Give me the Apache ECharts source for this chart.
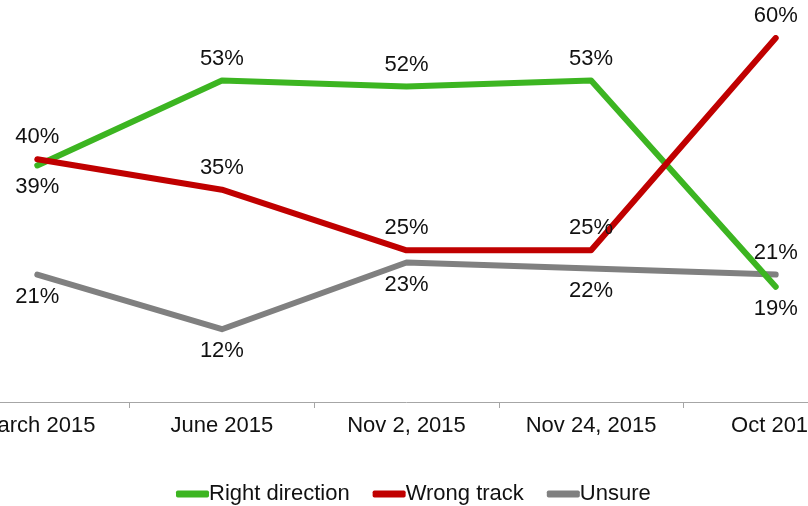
<!DOCTYPE html>
<html>
<head>
<meta charset="utf-8">
<script src="https://cdn.jsdelivr.net/npm/echarts@6/dist/echarts.min.js"></script>
<style>
  html, body { margin: 0; padding: 0; background: #fff; overflow: hidden; width: 808px; height: 506px; }
  /* plot is wider than the window, first and last labels are cut like in the source */
  #chart { position: absolute; left: -55px; top: 0; width: 923px; height: 506px; }
</style>
</head>
<body>
<div id="chart"></div>
<script>
var categories = ["March 2015", "June 2015", "Nov 2, 2015", "Nov 24, 2015", "Oct 2016"];
var rightDirection = [39, 53, 52, 53, 19];
var wrongTrack = [40, 35, 25, 25, 60];
var unsure = [21, 12, 23, 22, 21];
// label side for each point
var rightPos = ["bottom", "top", "top", "top", "bottom"];
var wrongPos = ["top", "top", "top", "top", "top"];
var unsurePos = ["bottom", "bottom", "bottom", "bottom", "top"];

var font = "Liberation Sans, Arial, sans-serif";

function points(vals, pos) {
  return vals.map(function (v, i) {
    return { value: v, label: { position: pos[i] } };
  });
}

function makeSeries(name, vals, pos, color, z) {
  return {
    name: name,
    type: "line",
    z: z,
    data: points(vals, pos),
    symbol: "circle",
    symbolSize: 2,
    showSymbol: true,
    lineStyle: { color: color, width: 6, cap: "round", join: "round" },
    itemStyle: { color: color },
    label: {
      show: true,
      formatter: "{c}%",
      distance: 10,
      color: "#111",
      fontSize: 22,
      fontFamily: font
    }
  };
}

var myChart = echarts.init(document.getElementById("chart"));
var option = {
  animation: false,
  backgroundColor: "#fff",
  grid: { left: 0, right: 0, top: 38, bottom: 104 },
  legend: {
    top: 478,
    left: 226,
    icon: "roundRect",
    itemWidth: 33,
    itemHeight: 7,
    itemGap: 23,
    textStyle: { fontSize: 22, color: "#111", fontFamily: font, padding: [0, 0, 0, -5] },
    data: ["Right direction", "Wrong track", "Unsure"]
  },
  xAxis: {
    type: "category",
    data: categories,
    boundaryGap: true,
    axisLine: { lineStyle: { color: "#a6a6a6", width: 1 } },
    axisTick: { show: true, length: 6, lineStyle: { color: "#a6a6a6" } },
    axisLabel: { margin: 13, fontSize: 22, color: "#111", fontFamily: font, interval: 0 }
  },
  yAxis: {
    type: "value",
    min: 0,
    max: 60,
    show: false
  },
  series: [
    makeSeries("Unsure", unsure, unsurePos, "#808080", 2),
    makeSeries("Right direction", rightDirection, rightPos, "#3cb521", 3),
    makeSeries("Wrong track", wrongTrack, wrongPos, "#c00000", 4)
  ]
};
myChart.setOption(option);
</script>
</body>
</html>
